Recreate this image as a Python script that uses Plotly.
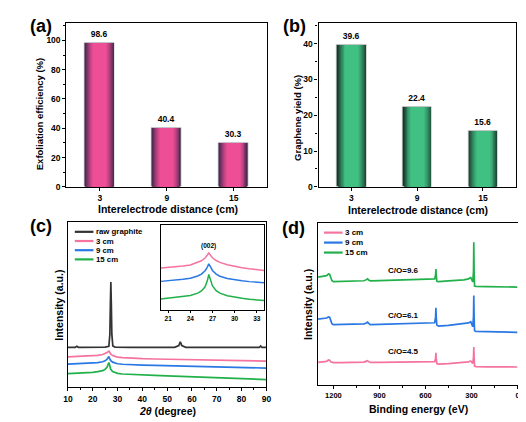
import numpy as np
import plotly.graph_objects as go

W, H = 526, 422
FONT = "Liberation Sans, Arial, sans-serif"

# ---------------- data ----------------
distances = ["3", "9", "15"]
exfoliation_eff = [98.6, 40.4, 30.3]
graphene_yield = [39.6, 22.4, 15.6]

# XRD (c), main panel
xrd_raw_2theta = [10, 13, 13.6, 14.2, 15, 20, 25, 26.5, 26.9, 27.1, 27.3, 27.5, 27.7, 28.1,
                  29, 35, 45, 53, 54.7, 55.3, 55.9, 57.5, 65, 75, 85, 87.2, 87.7, 88.2, 90]
xrd_raw = [24.2, 24.2, 24.8, 24.2, 24.2, 24.2, 24.3, 24.8, 32, 50, 63.8, 50, 32, 25,
           24.3, 24.2, 24.2, 24.2, 25.2, 27.6, 25.2, 24.2, 24.2, 24.2, 24.2, 24.2, 25.0, 24.2, 24.2]

xrd_2theta = [10, 15, 20, 22, 24, 25, 25.8, 26.2, 26.5, 26.8, 27.2, 28, 29, 30, 32, 35,
              40, 45, 50, 55, 60, 65, 70, 75, 80, 85, 90]
xrd_3cm = [18.4, 18.6, 19.0, 19.3, 19.8, 20.3, 21.0, 21.6, 21.9, 21.2, 20.2, 19.2, 18.6, 18.2,
           17.9, 17.6, 17.3, 17.1, 17.0, 16.8, 16.6, 16.5, 16.3, 16.2, 16.0, 15.9, 15.8]
xrd_9cm = [14.0, 14.2, 14.6, 14.9, 15.4, 16.0, 17.0, 18.0, 18.6, 17.5, 16.2, 15.2, 14.6, 14.2,
           13.9, 13.6, 13.4, 13.2, 13.0, 12.8, 12.6, 12.4, 12.2, 12.0, 11.9, 11.7, 11.6]
xrd_15cm = [8.2, 8.5, 9.0, 9.4, 10.0, 10.8, 12.2, 13.8, 15.0, 13.4, 11.0, 9.5, 8.8, 8.4,
            8.0, 7.7, 7.4, 7.1, 6.8, 6.5, 6.2, 5.9, 5.6, 5.3, 5.0, 4.8, 4.6]

# XRD inset (002)
inset_2theta = [20, 21, 22, 23, 24, 25, 25.5, 26, 26.3, 26.5, 26.7, 27, 27.5, 28, 29, 30, 31, 32, 33, 34]
inset_3cm = [49.6, 50.2, 51.0, 52.0, 53.2, 56.0, 58.2, 61.5, 64.5, 67.4, 65.0, 61.8, 58.5, 56.3,
             53.5, 51.5, 50.0, 48.8, 47.6, 46.8]
inset_9cm = [33.9, 34.5, 35.3, 36.3, 37.6, 40.2, 42.5, 46.5, 50.8, 54.7, 51.5, 46.8, 42.5, 40.0,
             37.2, 35.6, 34.5, 33.6, 32.8, 32.3]
inset_15cm = [13.1, 13.9, 14.8, 15.8, 17.2, 20.0, 22.5, 27.5, 34.5, 42.0, 36.0, 28.5, 23.0, 20.0,
              17.0, 15.2, 13.9, 12.8, 11.9, 11.2]

# XPS survey (d)
xps_be = [1300, 1270, 1245, 1232, 1225, 1218, 1210, 1200, 1150, 1100, 1050, 1000, 985, 978, 970,
          960, 900, 800, 700, 600, 560, 540, 534, 532, 530, 526, 515, 450, 400, 350, 320, 305,
          298, 292, 287, 285, 283, 280, 270, 200, 100, 0]
xps_15cm = [66.5, 66.8, 67.5, 68.5, 68.3, 66.5, 64.5, 63.8, 63.9, 64.0, 64.1, 64.3, 65.0, 65.5, 64.8,
            64.2, 64.4, 64.7, 65.0, 65.2, 65.3, 65.5, 68.0, 71.5, 68.0, 64.0, 63.8, 64.2, 64.5, 64.9,
            65.5, 66.2, 65.0, 63.5, 70.0, 88.1, 70.0, 61.0, 60.8, 60.7, 60.5, 60.4]
xps_9cm = [40.6, 40.8, 41.3, 42.0, 41.8, 40.0, 37.8, 37.2, 37.3, 37.4, 37.5, 37.7, 38.3, 38.8, 38.0,
           37.2, 37.4, 37.7, 37.9, 38.1, 38.2, 38.4, 42.0, 47.7, 42.0, 37.0, 36.3, 36.8, 37.2, 37.7,
           38.3, 39.0, 37.8, 36.0, 42.0, 55.2, 42.0, 33.5, 33.0, 32.9, 32.7, 32.5]
xps_3cm = [13.9, 14.1, 14.6, 15.4, 15.2, 14.3, 13.9, 13.8, 13.8, 13.9, 14.0, 14.1, 14.7, 15.0, 14.4,
           13.9, 14.0, 14.1, 14.2, 14.3, 14.3, 14.4, 16.5, 19.8, 16.5, 13.2, 12.9, 13.2, 13.5, 13.8,
           14.3, 14.8, 14.0, 13.3, 17.0, 23.4, 17.0, 11.6, 11.3, 11.2, 11.2, 11.1]

co_ratios = ["C/O=4.5", "C/O=6.1", "C/O=9.6"]
co_pos_be = [744, 744, 744]
co_pos_y = [20.8, 42.7, 70.4]

xrd_names = ["raw graphite", "3 cm", "9 cm", "15 cm"]
xps_names = ["3 cm", "9 cm", "15 cm"]

# ---------------- styles ----------------
C_RAW = "#333333"
C_PINK = "#F4739F"
C_BLUE = "#2A78E4"
C_GREEN = "#22B04B"


def px2paper_x(px):
    return px / W


def px2paper_y(py):
    return 1 - py / H


fig = go.Figure()


def mix(c1, c2, t):
    return "rgb(%d,%d,%d)" % tuple(int(round(a + (b - a) * t)) for a, b in zip(c1, c2))


def cylinder_bars(x, y, xa, ya, dark, bright):
    n = 16
    full = 0.45
    for k in range(n):
        r = 1 - k / n
        b = min(1.0, 1.25 * (1 - r ** 2))
        first = k == 0
        fig.add_trace(go.Bar(
            x=x, y=y, width=[full * r] * len(x), xaxis=xa, yaxis=ya,
            marker=dict(color=mix(dark, bright, b),
                        line=dict(color="#d4d4d4" if first else "rgba(0,0,0,0)",
                                  width=0.8 if first else 0)),
            text=[f"{v}" for v in y] if first else None,
            textposition="outside" if first else "none",
            textfont=dict(size=8.5, color="black", family=FONT, weight="bold"),
            constraintext="none", cliponaxis=False,
            showlegend=False, hoverinfo="skip"))


cylinder_bars(distances, exfoliation_eff, "x", "y", (52, 34, 72), (238, 78, 150))
cylinder_bars(distances, graphene_yield, "x2", "y2", (24, 52, 42), (64, 192, 130))

# XRD main
lw = 1.7
fig.add_trace(go.Scatter(x=xrd_raw_2theta, y=xrd_raw, mode="lines", line=dict(color=C_RAW, width=lw),
                         xaxis="x3", yaxis="y3", showlegend=False))
for ys, c in [(xrd_3cm, C_PINK), (xrd_9cm, C_BLUE), (xrd_15cm, C_GREEN)]:
    fig.add_trace(go.Scatter(x=xrd_2theta, y=ys, mode="lines", line=dict(color=c, width=lw),
                             xaxis="x3", yaxis="y3", showlegend=False))
# inset
for ys, c in [(inset_3cm, C_PINK), (inset_9cm, C_BLUE), (inset_15cm, C_GREEN)]:
    fig.add_trace(go.Scatter(x=inset_2theta, y=ys, mode="lines", line=dict(color=c, width=1.5),
                             xaxis="x5", yaxis="y5", showlegend=False))
# XPS
for ys, c in [(xps_3cm, C_PINK), (xps_9cm, C_BLUE), (xps_15cm, C_GREEN)]:
    fig.add_trace(go.Scatter(x=xps_be, y=ys, mode="lines", line=dict(color=c, width=lw),
                             xaxis="x4", yaxis="y4", showlegend=False))

# ---------------- axes ----------------
tickfont = dict(size=8.5, color="black", family=FONT, weight="bold")
frame = dict(showline=True, linecolor="black", linewidth=1.4, mirror=True,
             showgrid=False, zeroline=False, ticks="outside", ticklen=3, tickwidth=1.2,
             tickcolor="black", tickfont=tickfont)

dom_a_x = [px2paper_x(54.5), px2paper_x(259)]
dom_b_x = [px2paper_x(311.5), px2paper_x(512.5)]
dom_top_y = [px2paper_y(181), px2paper_y(15)]
dom_c_x = [px2paper_x(56), px2paper_x(258.3)]
dom_c_y = [px2paper_y(383.7), px2paper_y(217)]
dom_d_x = [px2paper_x(311), px2paper_x(514.3)]
dom_d_y = [px2paper_y(381.5), px2paper_y(217.5)]
dom_in_x = [px2paper_x(150.7), px2paper_x(256)]
dom_in_y = [px2paper_y(305.7), px2paper_y(220)]

layout_axes = dict(
    xaxis=dict(frame, domain=dom_a_x, anchor="y", range=[-0.5, 2.5], type="category"),
    yaxis=dict(frame, domain=dom_top_y, anchor="x", range=[0, 112], dtick=20,
               minor=dict(dtick=10, ticks="outside", ticklen=2, tickcolor="black")),
    xaxis2=dict(frame, domain=dom_b_x, anchor="y2", range=[-0.5, 2.5], type="category"),
    yaxis2=dict(frame, domain=dom_top_y, anchor="x2", range=[0, 45.8], dtick=10,
                minor=dict(dtick=5, ticks="outside", ticklen=2, tickcolor="black")),
    xaxis3=dict(frame, domain=dom_c_x, anchor="y3", range=[10, 90], dtick=10,
                minor=dict(dtick=5, ticks="outside", ticklen=2, tickcolor="black")),
    yaxis3=dict(frame, domain=dom_c_y, anchor="x3", range=[0, 100], ticks="",
                showticklabels=False),
    xaxis4=dict(frame, domain=dom_d_x, anchor="y4", range=[1300, 0], tickvals=[1200, 900, 600, 300, 0],
                tickfont=dict(size=7.5, color="black", family=FONT, weight="bold"),
                minor=dict(tickvals=[1050, 750, 450, 150], ticks="outside", ticklen=2, tickcolor="black")),
    yaxis4=dict(frame, domain=dom_d_y, anchor="x4", range=[0, 100], ticks="",
                showticklabels=False),
    xaxis5=dict(frame, domain=dom_in_x, anchor="y5", range=[20, 34], tickvals=[21, 24, 27, 30, 33],
                ticklen=2, linewidth=1.2,
                tickfont=dict(size=6.5, color="black", family=FONT, weight="bold")),
    yaxis5=dict(frame, domain=dom_in_y, anchor="x5", range=[0, 100], ticks="",
                showticklabels=False, linewidth=1.2),
)

# ---------------- annotations ----------------
ann = []


def txt(text, px, py, size, angle=0, xanchor="center", pad=1):
    ann.append(dict(text=text, x=px2paper_x(px), y=px2paper_y(py), xref="paper", yref="paper",
                    showarrow=False, textangle=angle, xanchor=xanchor, yanchor="middle",
                    borderpad=pad,
                    font=dict(size=size, color="black", family=FONT, weight="bold")))


# panel labels
txt("(a)", 29, 18, 18)
txt("(b)", 286.5, 18, 18)
txt("(c)", 28.3, 221, 18)
txt("(d)", 286.3, 222.5, 18)
# axis titles
txt("Exfoliation efficiency (%)", 27, 107, 9.5, -90)
txt("Interelectrode distance (cm)", 157.5, 203, 10.5)
txt("Graphene yield (%)", 289.7, 111, 9.5, -90)
txt("Interelectrode distance (cm)", 413, 204, 10.5)
txt("Intensity (a.u.)", 46.7, 300.5, 10.5, -90)
txt("<i>2θ</i> (degree)", 157.3, 407.7, 10.5)
txt("Intensity (a.u.)", 301.3, 300, 10.5, -90)
txt("Binding energy (eV)", 413, 406, 10.5)

# inset peak label
ann.append(dict(text="(002)", x=26.5, y=76, xref="x5", yref="y5", showarrow=False,
                font=dict(size=6.5, color="black", family=FONT, weight="bold")))
# C/O labels
for t, xb, yv in zip(co_ratios, co_pos_be, co_pos_y):
    ann.append(dict(text=t, x=xb, y=yv, xref="x4", yref="y4", showarrow=False,
                    font=dict(size=8, color="black", family=FONT, weight="bold")))

# manual legends
shapes = []


def legend(names, colors, x0, x1, xt, y0, dy, size):
    for i, (n, c) in enumerate(zip(names, colors)):
        yy = y0 + i * dy
        shapes.append(dict(type="line", xref="paper", yref="paper",
                           x0=px2paper_x(x0), x1=px2paper_x(x1),
                           y0=px2paper_y(yy), y1=px2paper_y(yy),
                           line=dict(color=c, width=2.2)))
        txt(n, xt, yy, size, xanchor="left", pad=0)


legend(xrd_names, [C_RAW, C_PINK, C_BLUE, C_GREEN], 63, 82, 84, 226.5, 9.3, 7.8)
legend(xps_names, [C_PINK, C_BLUE, C_GREEN], 317, 336, 337.5, 227.3, 10.1, 8)

fig.update_layout(
    width=W, height=H, autosize=False,
    margin=dict(l=0, r=0, t=0, b=0, pad=0),
    paper_bgcolor="white", plot_bgcolor="white",
    barmode="overlay", bargap=0,
    font=dict(family=FONT, color="black"),
    annotations=ann, shapes=shapes,
    **layout_axes,
)

fig.write_html("out.html")
